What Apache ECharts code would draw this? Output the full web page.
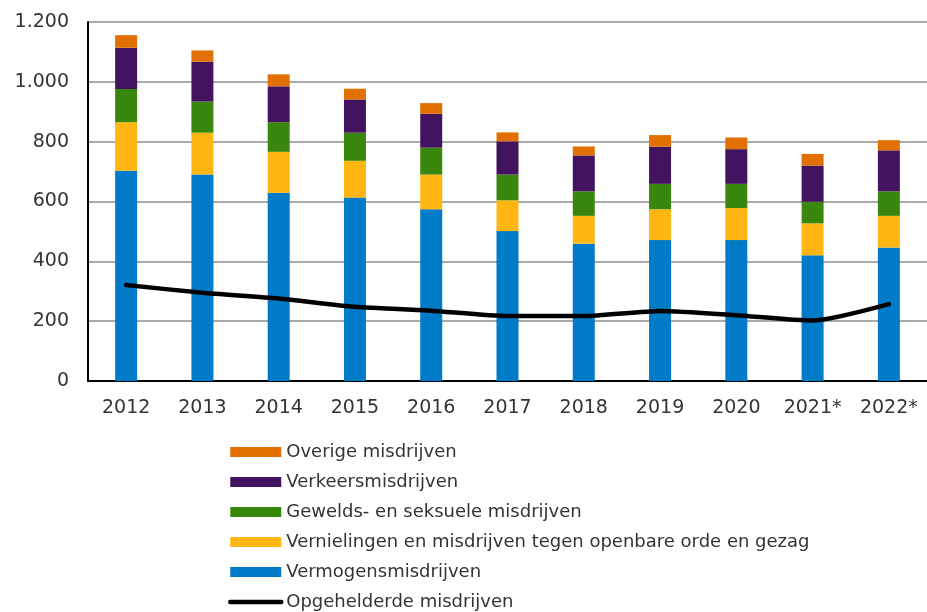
<!DOCTYPE html>
<html>
<head>
<meta charset="utf-8">
<title>Misdrijven</title>
<script src="https://cdn.jsdelivr.net/npm/echarts@6/dist/echarts.min.js"></script>
<style>
  * { margin: 0; padding: 0 }
  html, body { width: 100%; height: 100%; background: #fff; }
  #main { width: 927px; height: 612px; }
</style>
</head>
<body>
<div id="main"></div>
<script>
// jaren (x-as)
var years = ['2012', '2013', '2014', '2015', '2016', '2017', '2018', '2019', '2020', '2021*', '2022*'];

// gestapelde onderdelen, van onder naar boven
var vermogens    = [703, 690, 629, 613, 574, 501, 459, 471, 471, 420, 446];
var vernielingen = [162, 140, 137, 123, 116, 103,  93, 103, 107, 107, 106];
var gewelds      = [111, 104,  99,  94,  90,  86,  82,  85,  81,  72,  82];
var verkeers     = [138, 133, 120, 111, 113, 111, 120, 124, 116, 121, 137];
var overige      = [ 42,  38,  40,  36,  36,  30,  30,  39,  39,  39,  34];

// lijn
var opgehelderd  = [321, 295, 276, 248, 235, 217, 217, 234, 220, 202, 257];

var names = [
  'Overige misdrijven',
  'Verkeersmisdrijven',
  'Gewelds- en seksuele misdrijven',
  'Vernielingen en misdrijven tegen openbare orde en gezag',
  'Vermogensmisdrijven',
  'Opgehelderde misdrijven'
];

var font = 'Verdana, "DejaVu Sans", sans-serif';

function bar(name, data, color) {
  return {
    name: name,
    type: 'bar',
    stack: 'totaal',
    barWidth: 22,
    data: data,
    itemStyle: { color: color },
    emphasis: { disabled: true }
  };
}

var chart = echarts.init(document.getElementById('main'));
chart.setOption({
  animation: false,
  textStyle: { fontFamily: font },
  grid: { left: 88, right: 0, top: 22, bottom: 231 },
  legend: {
    orient: 'vertical',
    left: 228,
    top: 443,
    height: 220,
    padding: 0,
    itemWidth: 51,
    itemHeight: 10,
    itemGap: 12,
    textStyle: { fontFamily: font, fontSize: 18, color: '#333', lineHeight: 18, padding: [0, 0, 0, 0] },
    data: [
      { name: names[0], icon: 'rect' },
      { name: names[1], icon: 'rect' },
      { name: names[2], icon: 'rect' },
      { name: names[3], icon: 'rect' },
      { name: names[4], icon: 'rect' },
      {
        name: names[5],
        itemStyle: { color: 'rgba(0,0,0,0)', borderWidth: 0 },
        lineStyle: { color: '#000', width: 4.5, cap: 'round' }
      }
    ]
  },
  xAxis: {
    type: 'category',
    data: years,
    axisLine: { lineStyle: { color: '#000', width: 2 } },
    axisTick: { show: false },
    axisLabel: { fontSize: 19, color: '#333', margin: 18, fontFamily: font }
  },
  yAxis: {
    type: 'value',
    min: 0,
    max: 1200,
    interval: 200,
    axisLine: { show: true, lineStyle: { color: '#000', width: 2 } },
    axisTick: { show: false },
    splitLine: { lineStyle: { color: '#aaaaaa', width: 2 } },
    axisLabel: {
      fontSize: 19, color: '#333', margin: 19, fontFamily: font,
      formatter: function (v) { return String(v).replace(/\B(?=(\d{3})+(?!\d))/g, '.'); }
    }
  },
  series: [
    bar(names[4], vermogens, '#007bc7'),
    bar(names[3], vernielingen, '#ffb612'),
    bar(names[2], gewelds, '#39870c'),
    bar(names[1], verkeers, '#42145f'),
    bar(names[0], overige, '#e17000'),
    {
      name: names[5],
      type: 'line',
      data: opgehelderd,
      symbol: 'none',
      smooth: 0.2,
      z: 10,
      lineStyle: { color: '#000', width: 4.5, cap: 'round' },
      itemStyle: { color: '#000' },
      emphasis: { disabled: true }
    }
  ]
});
</script>
</body>
</html>
